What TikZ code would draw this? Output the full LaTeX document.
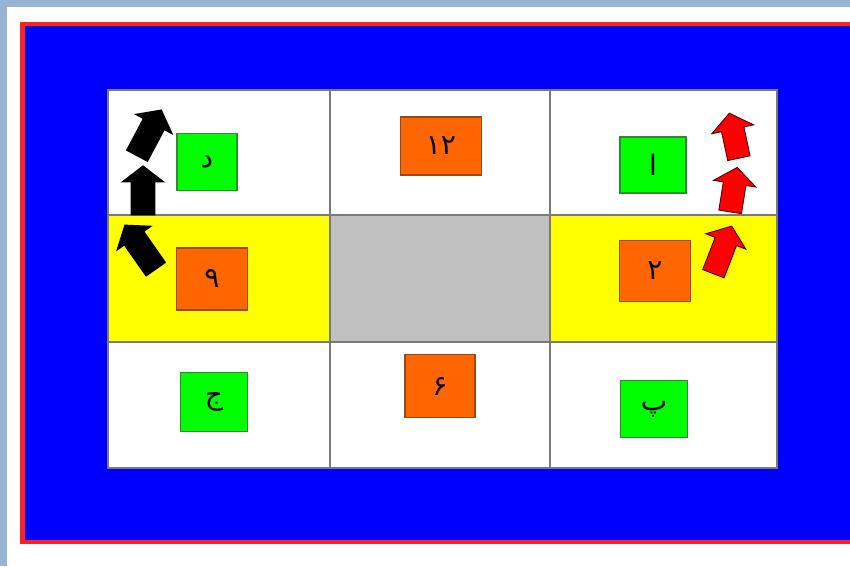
\documentclass[tikz,border=0pt]{standalone}
\usepackage{fontspec}
\newfontfamily\arabicfont[Script=Arabic]{DejaVu Sans}
\TeXXeTstate=1
\usepackage{tikz}
\usetikzlibrary{shapes.arrows, positioning}

\definecolor{pagegray}{HTML}{98B4D4}
\definecolor{fieldblue}{HTML}{0000FF}
\definecolor{fieldred}{HTML}{FF2020}
\definecolor{cellline}{HTML}{7A7A7A}
\definecolor{laneyellow}{HTML}{FFFF00}
\definecolor{hubgray}{HTML}{C0C0C0}
\definecolor{tagg}{HTML}{00FF00}
\definecolor{taggline}{HTML}{2E8B2E}
\definecolor{tago}{HTML}{FF6600}
\definecolor{tagoline}{HTML}{9A4A10}

\begin{document}
\begin{tikzpicture}[x=0.02cm, y=-0.02cm,
        cell/.style={
            draw=cellline, line width=1.1pt, inner sep=0pt, outer sep=0pt
        },
        plain/.style={cell, fill=white},
        lane/.style={cell, fill=laneyellow},
        hub/.style={cell, fill=hubgray},
        tag/.style={
            line width=0.8pt, inner sep=0pt,
            font=\arabicfont\fontsize{16}{18}\selectfont
        },
        letter/.style={tag, fill=tagg, draw=taggline},
        number/.style={tag, fill=tago, draw=tagoline},
        blkarr/.style={
            single arrow, fill=black, inner xsep=0pt, inner ysep=0.24cm,
            single arrow head extend=0.2cm, single arrow tip angle=105,
            outer sep=0pt
        },
        redarr/.style={blkarr, fill=red, draw=black!70!red, line width=0.5pt,
            inner ysep=0.22cm}
    ]

        \useasboundingbox (0,0) rectangle (850,566);

        % Rahmen und Spielfeld
        \fill[pagegray] (0,0) rectangle (850,566);
        \fill[white] (7,7) rectangle (850,566);
        \draw[fieldred, line width=2.3pt, fill=fieldblue] (22.5,24) rectangle (870,542);

        % Zellen
        \node[plain, anchor=north west, minimum width=4.44cm, minimum height=2.5cm] (c11) at (108,90) {};
        \node[plain, right=0pt of c11, minimum width=4.4cm, minimum height=2.5cm] (c12) {};
        \node[plain, right=0pt of c12, minimum width=4.54cm, minimum height=2.5cm] (c13) {};
        \node[lane, below=0pt of c11, minimum width=4.44cm, minimum height=2.54cm] (c21) {};
        \node[hub, right=0pt of c21, minimum width=4.4cm, minimum height=2.54cm] (c22) {};
        \node[lane, right=0pt of c22, minimum width=4.54cm, minimum height=2.54cm] (c23) {};
        \node[plain, below=0pt of c21, minimum width=4.44cm, minimum height=2.52cm] (c31) {};
        \node[plain, right=0pt of c31, minimum width=4.4cm, minimum height=2.52cm] (c32) {};
        \node[plain, right=0pt of c32, minimum width=4.54cm, minimum height=2.52cm] (c33) {};

        % Felder
        \node[letter, minimum width=1.2cm, minimum height=1.14cm] (dal) at (207,162) {\beginR د\endR};
        \node[number, minimum width=1.62cm, minimum height=1.16cm] (n12) at (441,146) {\beginR ۱۲\endR};
        \node[letter, minimum width=1.32cm, minimum height=1.12cm] (alef) at (653,165) {\beginR ا\endR};
        \node[number, minimum width=1.42cm, minimum height=1.24cm] (n9) at (212,279) {\beginR ۹\endR};
        \node[number, minimum width=1.42cm, minimum height=1.22cm] (n2) at (655,271) {\beginR ۲\endR};
        \node[letter, minimum width=1.34cm, minimum height=1.18cm] (jim) at (214,402) {\beginR ج\endR};
        \node[number, minimum width=1.4cm, minimum height=1.26cm] (n6) at (440,386) {\beginR ۶\endR};
        \node[letter, minimum width=1.34cm, minimum height=1.14cm] (pe) at (654,409) {\beginR پ\endR};

        % Pfeile
        \node[blkarr, minimum height=1.06cm, rotate=62] (b1) at (147,137) {};
        \node[blkarr, minimum height=1.0cm, rotate=90] (b2) at (143,195) {};
        \node[blkarr, minimum height=1.1cm, rotate=125] (b3) at (143,251) {};
        \node[redarr, minimum height=0.92cm, rotate=102] (r1) at (735,140) {};
        \node[redarr, minimum height=0.9cm, rotate=81] (r2) at (733,194) {};
        \node[redarr, minimum height=1.02cm, rotate=69] (r3) at (721,254) {};

    \end{tikzpicture}
\end{document}
